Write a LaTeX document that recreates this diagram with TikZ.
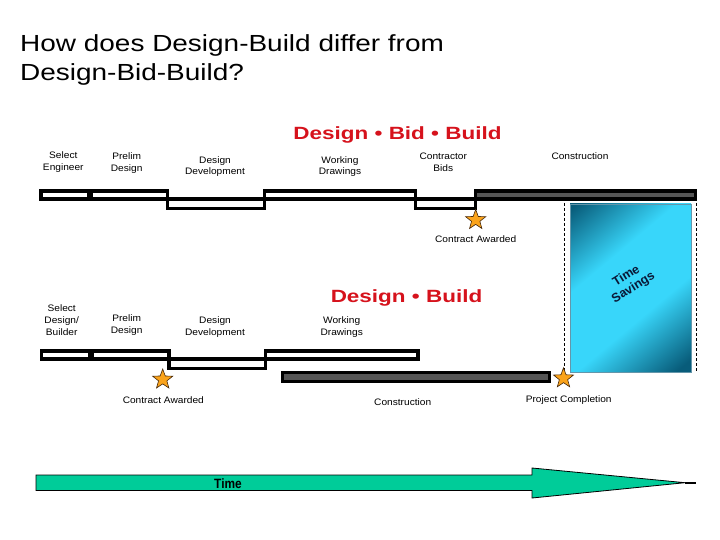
\documentclass[tikz,border=0pt]{standalone}
\usepackage{fontspec}
\setmainfont{Liberation Sans}
\newfontfamily\titlefont{Liberation Sans}[FakeStretch=1.2]
\newfontfamily\redfont{Liberation Sans}[FakeStretch=1.27]
\newfontfamily\lblfont{Liberation Sans}[FakeStretch=1.08]
\newfontfamily\narrowfont{Liberation Sans}[FakeStretch=0.88]
\usetikzlibrary{shapes.geometric}
\definecolor{dbbred}{RGB}{214,18,28}
\definecolor{starorange}{RGB}{250,163,27}
\definecolor{starline}{RGB}{70,40,10}
\definecolor{barfill}{RGB}{85,85,85}
\definecolor{arrowgreen}{RGB}{0,204,153}
\definecolor{tsdark}{RGB}{8,92,122}
\definecolor{tsbright}{RGB}{56,214,250}
\definecolor{tsedge}{RGB}{100,150,170}
\definecolor{tstext}{RGB}{10,25,55}
\pgfdeclareverticalshading{savingsshade}{100bp}{color(0bp)=(tsdark); color(18bp)=(tsdark); color(40bp)=(tsbright); color(62bp)=(tsbright); color(84bp)=(tsdark); color(100bp)=(tsdark)}
\begin{document}
\begin{tikzpicture}[x=1pt,y=-1pt,
  lbl/.style={font=\lblfont\fontsize{9.4}{11.8}\selectfont, align=center, inner sep=0pt, anchor=base},
  redtitle/.style={font=\redfont\bfseries\fontsize{17.7}{20}\selectfont, text=dbbred, inner sep=0pt, anchor=base},
  barline/.style={line width=3.3pt, line join=miter},
  constrbar/.style={barline, fill=barfill},
  starshape/.style={star, star points=5, star point ratio=2.4, minimum size=21pt, inner sep=0pt, fill=starorange, draw=starline, line width=0.6pt},
  guide/.style={line width=1pt, dash pattern=on 3pt off 2pt}]
\useasboundingbox (0,0) rectangle (720,540);
\fill[white] (0,0) rectangle (720,540);

% title (anchor = baseline of last line)
\node[anchor=base west, font=\titlefont\fontsize{23.3}{29}\selectfont, align=left, inner sep=0pt] (title) at (20,80.7) {How does Design-Build differ from\\Design-Bid-Build?};

% red headings
\node[redtitle] (dbb) at (397.5,139.3) {Design • Bid • Build};
\node[redtitle] (db) at (406.5,302.7) {Design • Build};

% time savings box and guides
\shadedraw[shading=savingsshade, shading angle=40, draw=tsedge, line width=0.8pt] (570,204) rectangle (691,372);
\node[rotate=32, font=\bfseries\fontsize{12.5}{13.5}\selectfont, text=tstext, align=center, inner sep=0pt] (ts) at (630,282) {Time\\Savings};
\coordinate (g1a) at (564,203);
\coordinate (g1b) at (564,376);
\coordinate (g2a) at (696,203);
\coordinate (g2b) at (696,372);
\draw[guide] (g1a) -- (g1b);
\draw[guide] (g2a) -- (g2b);

% upper bars (Design-Bid-Build)
\draw[barline] (41,191) rectangle (89,199);
\draw[barline] (91,191) rectangle (167.7,199);
\draw[barline] (167.7,199) rectangle (264.3,208.3);
\draw[barline] (264.3,191) rectangle (415.5,199);
\draw[barline] (415.5,199) rectangle (475.5,208.3);
\draw[constrbar] (475.5,191) rectangle (695.5,199);

% lower bars (Design-Build)
\draw[barline] (41.7,351) rectangle (89.7,359);
\draw[barline] (92.3,351) rectangle (169,359);
\draw[barline] (169,359) rectangle (265.7,368.7);
\draw[barline] (265.7,351) rectangle (418,359);
\draw[constrbar, line width=3pt] (282.5,372.5) rectangle (549.5,381.3);

% stars
\node[starshape] (s1) at (475.7,220) {};
\node[starshape] (s2) at (162.7,379.5) {};
\node[starshape] (s3) at (563.5,378.3) {};

% upper labels (anchor = baseline of last line)
\node[lbl] (u1) at (63.3,170.7) {Select\\Engineer};
\node[lbl] (u2) at (126.7,171.5) {Prelim\\Design};
\node[lbl] (u3) at (215,175) {Design\\Development};
\node[lbl] (u4) at (340,175) {Working\\Drawings};
\node[lbl] (u5) at (443.3,171.7) {Contractor\\Bids};
\node[lbl] (u6) at (580,160) {Construction};
\node[lbl] (u7) at (475.7,242.7) {Contract Awarded};

% lower labels
\node[lbl] (l1) at (61.7,335.2) {Select\\Design/\\Builder};
\node[lbl] (l2) at (126.7,333.3) {Prelim\\Design};
\node[lbl] (l3) at (215,335.5) {Design\\Development};
\node[lbl] (l4) at (341.7,335.5) {Working\\Drawings};
\node[lbl] (l5) at (163.3,403.3) {Contract Awarded};
\node[lbl] (l6) at (402.7,405.7) {Construction};
\node[lbl] (l7) at (568.7,402.7) {Project Completion};

% time arrow
\coordinate (tip) at (685,482.7);
\coordinate (tipend) at (696,482.7);
\draw[fill=arrowgreen, line width=0.8pt, line join=miter] (36,475) -- (532,475) -- (532,468) -- (tip) -- (532,498) -- (532,490.5) -- (36,490.5) -- cycle;
\draw[line width=1.8pt] (tip) -- (tipend);
\node[font=\narrowfont\bfseries\fontsize{13.5}{14}\selectfont, inner sep=0pt, anchor=base] (timelbl) at (228,488) {Time};
\end{tikzpicture}
\end{document}
